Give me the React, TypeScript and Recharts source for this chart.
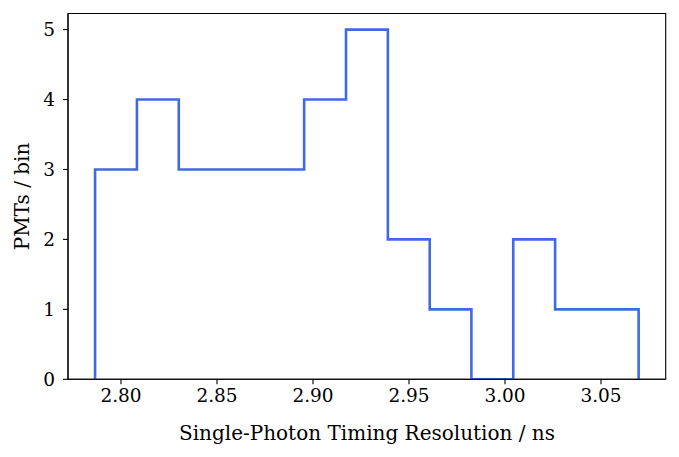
import { LineChart, Line, XAxis, YAxis, Label, ReferenceArea } from "recharts";

// histogram bin edges (ns) and counts per bin
const binEdges = [
  2.7865, 2.8083, 2.8301, 2.8518, 2.8736, 2.8954, 2.9172, 2.939, 2.9608,
  2.9825, 3.0043, 3.0261, 3.0479, 3.0696,
];
const counts = [3, 4, 3, 3, 3, 4, 5, 2, 1, 0, 2, 1, 1];

const xTicks = [2.8, 2.85, 2.9, 2.95, 3.0, 3.05];
const yTicks = [0, 1, 2, 3, 4, 5];

const X_DOMAIN: [number, number] = [2.7724, 3.0837];
const Y_DOMAIN: [number, number] = [0, 5.23];

// step outline like matplotlib histtype="step"
const outline = [
  { x: binEdges[0], y: 0 },
  ...counts.map((c, i) => ({ x: binEdges[i], y: c })),
  { x: binEdges[binEdges.length - 1], y: 0 },
];

const FONT = "'DejaVu Serif', serif";
const tickStyle = { fontFamily: FONT, fontSize: 18.5, fill: "#000" };

export default function App() {
  return (
    <div style={{ position: "absolute", left: 0, top: 0, background: "#fff" }}>
      <LineChart
        width={679}
        height={457}
        data={outline}
        margin={{ top: 13.5, right: 13.3, left: 0, bottom: 0 }}
      >
        {/* frame */}
        <ReferenceArea
          x1={X_DOMAIN[0]}
          x2={X_DOMAIN[1]}
          y1={Y_DOMAIN[0]}
          y2={Y_DOMAIN[1]}
          fill="none"
          stroke="#000"
          strokeWidth={1.1}
        />
        <XAxis
          dataKey="x"
          type="number"
          domain={X_DOMAIN}
          allowDataOverflow
          ticks={xTicks}
          tickFormatter={(v: number) => v.toFixed(2)}
          tick={tickStyle}
          tickSize={5}
          tickMargin={5}
          height={77.7}
          stroke="#000"
          strokeWidth={1.1}
        >
          <Label
            content={() => (
              <text
                x={367}
                y={433}
                textAnchor="middle"
                dominantBaseline="central"
                style={{ fontFamily: FONT, fontSize: 20 }}
              >
                Single-Photon Timing Resolution / ns
              </text>
            )}
          />
        </XAxis>
        <YAxis
          type="number"
          domain={Y_DOMAIN}
          allowDataOverflow
          ticks={yTicks}
          tick={tickStyle}
          tickSize={5}
          tickMargin={8}
          width={68}
          stroke="#000"
          strokeWidth={1.1}
        >
          <Label
            content={() => (
              <text
                x={22}
                y={196.5}
                transform="rotate(-90 22 196.5)"
                textAnchor="middle"
                dominantBaseline="central"
                style={{ fontFamily: FONT, fontSize: 20 }}
              >
                PMTs / bin
              </text>
            )}
          />
        </YAxis>
        <Line
          type="stepAfter"
          dataKey="y"
          stroke="#4169e1"
          strokeWidth={2.6}
          dot={false}
          activeDot={false}
          isAnimationActive={false}
        />
      </LineChart>
    </div>
  );
}
